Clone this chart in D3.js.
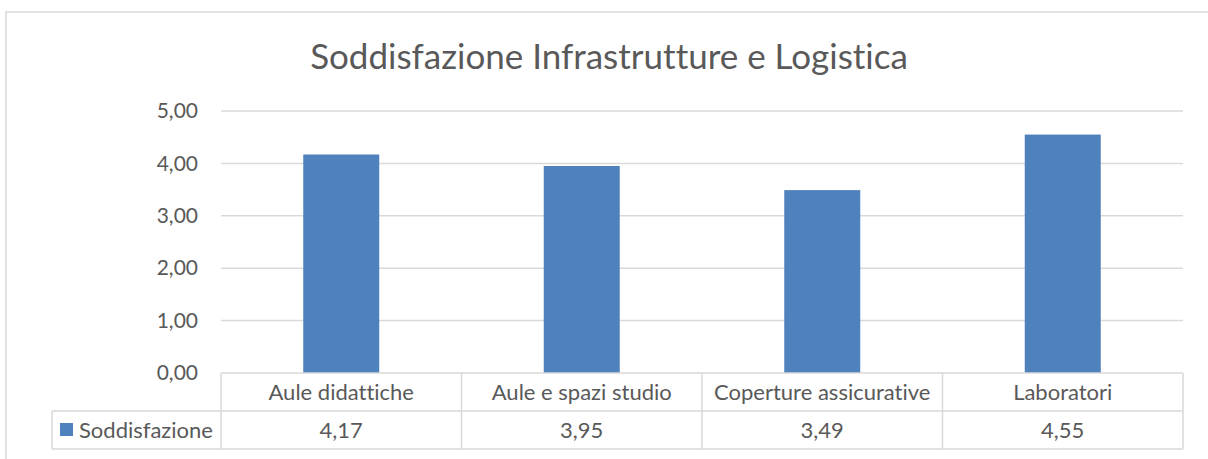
<!DOCTYPE html>
<html>
<head>
<meta charset="utf-8">
<script src="https://cdn.jsdelivr.net/npm/d3@7"></script>
<style>
  body { margin: 0; background: #fff; }
  svg text { font-family: Lato, "Open Sans", sans-serif; fill: #595959; font-variant-ligatures: none; }
</style>
</head>
<body>
<div id="holder"></div>
<script>
const categories = ["Aule didattiche", "Aule e spazi studio", "Coperture assicurative", "Laboratori"];
const seriesName = "Soddisfazione";
const values = [4.17, 3.95, 3.49, 4.55];
const yTicks = [0, 1, 2, 3, 4, 5];

const width = 1208;
const height = 459;
const plotLeft = 221, plotRight = 1183;
const plotTop = 111, plotBottom = 373;
const rowH = 38;
const legendLeft = 52;
const grid = "#d9d9d9";
const barColor = "#4f81bd";

const it = d3.formatLocale({ decimal: ",", thousands: ".", grouping: [3], currency: ["€", ""] });
const fmt = it.format(".2f");

const svg = d3.select("#holder").append("svg")
  .attr("width", width)
  .attr("height", height);

// outer chart frame (runs off the right/bottom of the picture)
svg.append("rect")
  .attr("x", 6).attr("y", 12)
  .attr("width", width + 20).attr("height", height + 20)
  .attr("fill", "none")
  .attr("stroke", grid)
  .attr("stroke-width", 1.5);

svg.append("text")
  .attr("x", 609).attr("y", 69)
  .attr("text-anchor", "middle")
  .attr("font-size", 35)
  .text("Soddisfazione Infrastrutture e Logistica");

const x = d3.scaleBand().domain(categories).range([plotLeft, plotRight]).padding(0);
const y = d3.scaleLinear().domain([0, 5]).range([plotBottom, plotTop]);

// gridlines
svg.append("g")
  .selectAll("line")
  .data(yTicks.filter(d => d > 0))
  .enter()
  .append("line")
  .attr("x1", plotLeft).attr("x2", plotRight)
  .attr("y1", d => y(d)).attr("y2", d => y(d))
  .attr("stroke", grid)
  .attr("stroke-width", 1.5);

// y labels
const yAxis = d3.axisLeft(y).tickValues(yTicks).tickFormat(fmt).tickSize(0).tickPadding(23);
const ya = svg.append("g")
  .attr("transform", `translate(${plotLeft},0)`)
  .call(yAxis);
ya.select(".domain").remove();
ya.attr("font-family", null).attr("font-size", null);
ya.selectAll("text")
  .attr("font-size", 21)
  .attr("fill", "#595959");

// bars
const barW = x.bandwidth() * 0.316;
svg.append("g")
  .selectAll("rect")
  .data(values)
  .enter()
  .append("rect")
  .attr("x", (d, i) => x(categories[i]) + x.bandwidth() / 2 - barW / 2)
  .attr("y", d => y(d))
  .attr("width", barW)
  .attr("height", d => y(0) - y(d))
  .attr("fill", barColor);

// data table
const table = svg.append("g")
  .attr("stroke", grid)
  .attr("stroke-width", 1.5)
  .attr("fill", "none");

table.append("line")
  .attr("x1", plotLeft).attr("x2", plotRight)
  .attr("y1", plotBottom).attr("y2", plotBottom);
table.append("line")
  .attr("x1", legendLeft).attr("x2", plotRight)
  .attr("y1", plotBottom + rowH).attr("y2", plotBottom + rowH);
table.append("line")
  .attr("x1", legendLeft).attr("x2", plotRight)
  .attr("y1", plotBottom + 2 * rowH).attr("y2", plotBottom + 2 * rowH);
table.append("line")
  .attr("x1", legendLeft).attr("x2", legendLeft)
  .attr("y1", plotBottom + rowH).attr("y2", plotBottom + 2 * rowH);
table.selectAll(".vline")
  .data(categories)
  .enter()
  .append("line")
  .attr("x1", d => x(d)).attr("x2", d => x(d))
  .attr("y1", plotBottom).attr("y2", plotBottom + 2 * rowH);
table.append("line")
  .attr("x1", plotRight).attr("x2", plotRight)
  .attr("y1", plotBottom).attr("y2", plotBottom + 2 * rowH);

svg.append("g")
  .selectAll("text")
  .data(categories)
  .enter()
  .append("text")
  .attr("x", d => x(d) + x.bandwidth() / 2)
  .attr("y", plotBottom + 27)
  .attr("text-anchor", "middle")
  .attr("font-size", 22)
  .text(d => d);

svg.append("g")
  .selectAll("text")
  .data(values)
  .enter()
  .append("text")
  .attr("x", (d, i) => x(categories[i]) + x.bandwidth() / 2)
  .attr("y", plotBottom + rowH + 27)
  .attr("text-anchor", "middle")
  .attr("font-size", 22)
  .text(d => fmt(d));

svg.append("rect")
  .attr("x", 60).attr("y", 423)
  .attr("width", 13).attr("height", 13)
  .attr("fill", barColor);
svg.append("text")
  .attr("x", 79).attr("y", plotBottom + rowH + 27)
  .attr("font-size", 22)
  .text(seriesName);
</script>
</body>
</html>
